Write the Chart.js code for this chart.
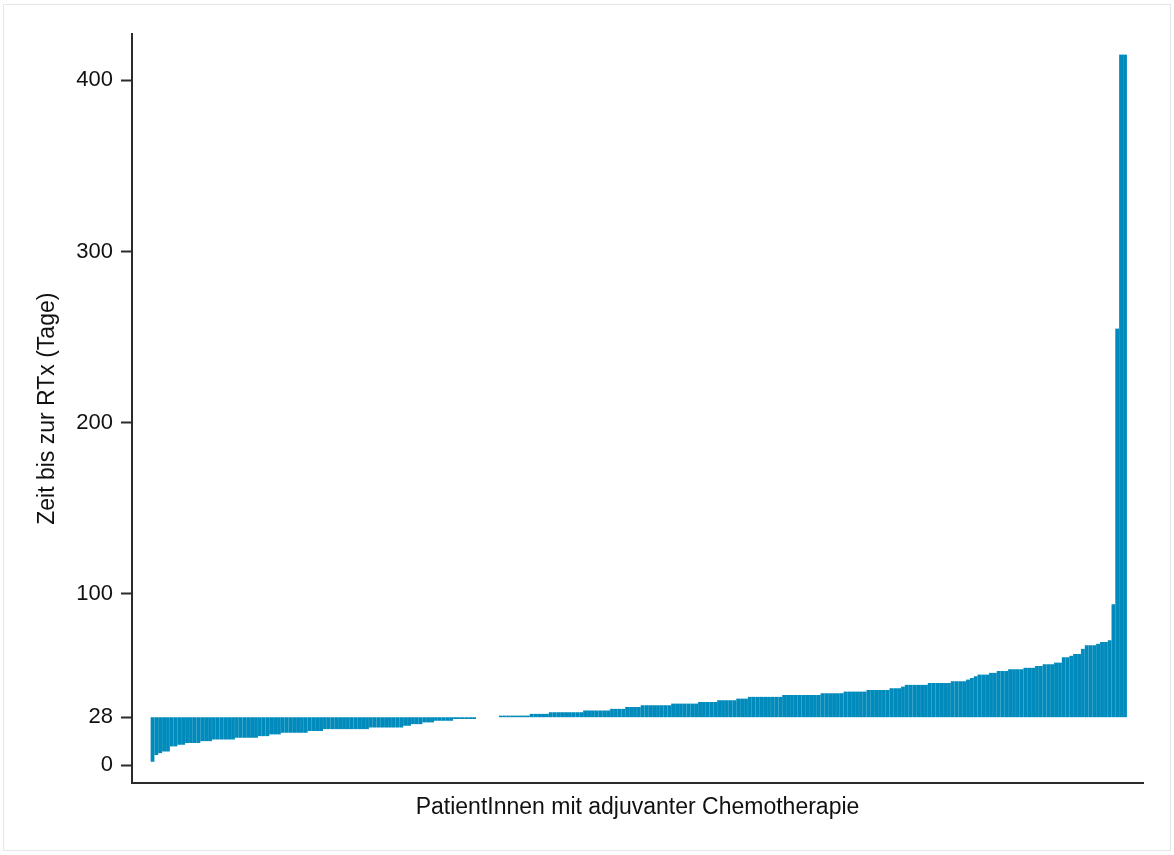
<!DOCTYPE html>
<html lang="de">
<head>
<meta charset="utf-8">
<title>Zeit bis zur RTx</title>
<script src="https://cdn.jsdelivr.net/npm/chart.js@4.4.1/dist/chart.umd.min.js"></script>
<style>
  html, body { margin: 0; padding: 0; background: #fff; }
  #wrap { width: 1174px; height: 855px; position: relative; }
</style>
</head>
<body>
<div id="wrap"><canvas id="rtxChart" width="1174" height="855"></canvas></div>
<script>
// ================= DATA =================
// Tage bis zur RTx je Patient/in, aufsteigend sortiert
const days = [
  2, 6, 7, 8, 8, 11, 11, 12, 12, 13, 13, 13, 13, 14, 14, 14,
  15, 15, 15, 15, 15, 15, 16, 16, 16, 16, 16, 16,
  17, 17, 17, 18, 18, 18, 19, 19, 19, 19, 19, 19, 19,
  20, 20, 20, 20,
  21, 21, 21, 21, 21, 21, 21, 21, 21, 21, 21, 21,
  22, 22, 22, 22, 22, 22, 22, 22, 22,
  23, 23, 24, 24, 24, 25, 25, 25, 26, 26, 26, 26, 26,
  27, 27, 27, 27, 27, 27,
  28, 28, 28, 28, 28, 28,
  29, 29, 29, 29, 29, 29, 29, 29, 30, 30, 30, 30, 30,
  31, 31, 31, 31, 31, 31, 31, 31, 31,
  32, 32, 32, 32, 32, 32, 32, 33, 33, 33, 33, 34, 34, 34, 34,
  35, 35, 35, 35, 35, 35, 35, 35, 36, 36, 36, 36, 36, 36, 36,
  37, 37, 37, 37, 37, 38, 38, 38, 38, 38, 39, 39, 39,
  40, 40, 40, 40, 40, 40, 40, 40, 40,
  41, 41, 41, 41, 41, 41, 41, 41, 41, 41,
  42, 42, 42, 42, 42, 42, 43, 43, 43, 43, 43, 43,
  44, 44, 44, 44, 44, 44, 45, 45, 45, 46,
  47, 47, 47, 47, 47, 47, 48, 48, 48, 48, 48, 48,
  49, 49, 49, 49, 50, 51, 52, 53, 53, 53, 54, 54,
  55, 55, 55, 56, 56, 56, 56, 57, 57, 57, 58, 58,
  59, 59, 59, 60, 60, 63, 63, 64, 65, 65, 68,
  70, 70, 70, 71, 72, 72, 73, 94, 255, 415, 415
];
const cutoff = 28;                         // Bezugslinie (4 Wochen)
const yTicks = [0, 28, 100, 200, 300, 400];
const yLabel = "Zeit bis zur RTx (Tage)";
const xLabel = "PatientInnen mit adjuvanter Chemotherapie";

const barColor = "rgb(0, 139, 188)";
const barEdge = "rgba(0, 139, 188, 0.7)";
const axisColor = "#2b2b2b";
const textColor = "#111";
const fontFamily = "'Liberation Sans', Arial, Helvetica, sans-serif";

// ================= FRAME PLUGIN =================
const framePlugin = {
  id: "frame",
  beforeDraw(chart) {
    const c = chart.ctx;
    c.save();
    c.fillStyle = "#fff";
    c.fillRect(0, 0, chart.width, chart.height);
    c.strokeStyle = "#e6e6e6";
    c.lineWidth = 1;
    c.strokeRect(3.5, 4.5, chart.width - 7, chart.height - 9);
    c.restore();
  }
};

// ================= CHART =================
const ctx = document.getElementById("rtxChart").getContext("2d");
new Chart(ctx, {
  type: "bar",
  data: {
    datasets: [{
      data: days.map((d, i) => ({ x: i, y: [cutoff, d] })),
      backgroundColor: barColor,
      borderColor: barEdge,
      borderWidth: { left: 0.5, right: 0, top: 0, bottom: 0 },
      borderSkipped: false,
      barPercentage: 1,
      categoryPercentage: 1
    }]
  },
  options: {
    responsive: false,
    animation: false,
    events: [],
    layout: { padding: { left: 30, right: 31, top: 34, bottom: 34 } },
    plugins: { legend: { display: false }, tooltip: { enabled: false } },
    scales: {
      x: {
        type: "linear",
        offset: false,
        bounds: "data",
        min: -5.38,
        max: 258.7,
        grid: { display: false, drawTicks: false, offset: false },
        border: { display: true, color: axisColor, width: 2 },
        ticks: { display: false },
        title: {
          display: true,
          text: xLabel,
          color: textColor,
          font: { family: fontFamily, size: 23 },
          padding: { top: 10, bottom: 0 }
        }
      },
      y: {
        min: -10.6,
        max: 427,
        afterBuildTicks: scale => { scale.ticks = yTicks.map(v => ({ value: v })); },
        afterFit: scale => { scale.width = 102; },
        grid: {
          drawOnChartArea: false,
          drawTicks: true,
          tickLength: 11,
          tickWidth: 2,
          tickColor: axisColor
        },
        border: { display: true, color: axisColor, width: 2 },
        ticks: {
          color: textColor,
          padding: 8,
          font: { family: fontFamily, size: 22 },
          callback: v => v
        },
        title: {
          display: true,
          text: yLabel,
          color: textColor,
          font: { family: fontFamily, size: 23 },
          padding: { top: 4, bottom: 0 }
        }
      }
    }
  },
  plugins: [framePlugin]
});
</script>
</body>
</html>
